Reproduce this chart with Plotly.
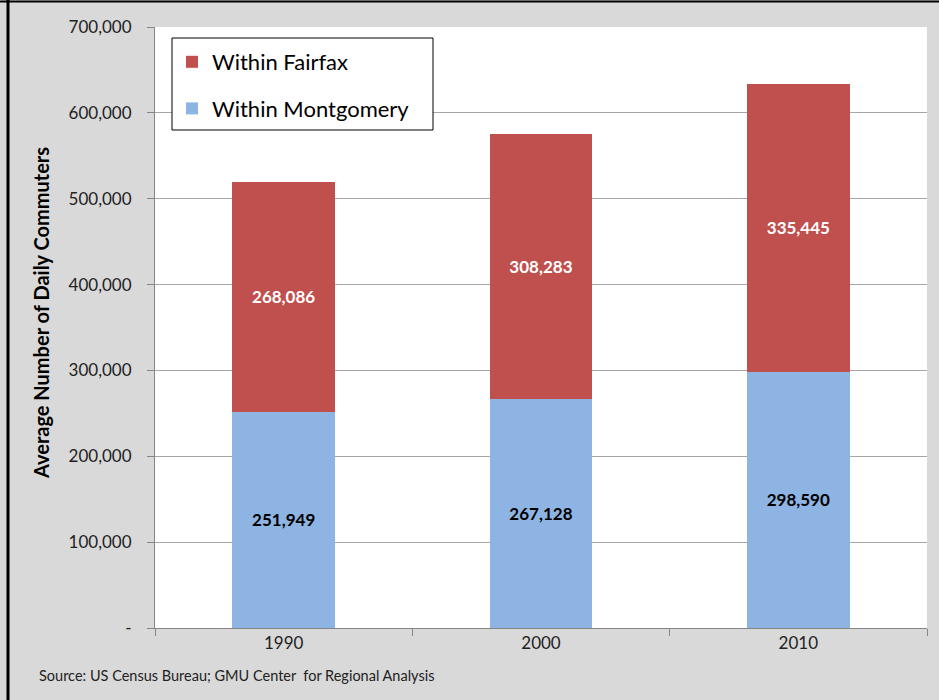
import plotly.graph_objects as go

years = ["1990", "2000", "2010"]
montgomery = [251949, 267128, 298590]
fairfax = [268086, 308283, 335445]
y_ticks = [0, 100000, 200000, 300000, 400000, 500000, 600000, 700000]
y_tick_text = ["-"] + [f"{v:,}" for v in y_ticks[1:]]

FONT = "Lato, 'Open Sans', sans-serif"
RED = "#C0504D"
BLUE = "#8EB4E3"

fig = go.Figure()
fig.add_trace(go.Bar(
    x=years, y=montgomery, name="Within Montgomery", legendgroup="m",
    legendrank=2,
    marker=dict(color=BLUE, line=dict(width=0)),
    text=[f"{v:,}" for v in montgomery], textposition="inside",
    insidetextanchor="middle",
    textfont=dict(color="black", size=17, family=FONT, weight="bold"),
))
fig.add_trace(go.Bar(
    x=years, y=fairfax, name="Within Fairfax", legendgroup="f",
    legendrank=1,
    marker=dict(color=RED, line=dict(width=0)),
    text=[f"{v:,}" for v in fairfax], textposition="inside",
    insidetextanchor="middle",
    textfont=dict(color="white", size=17, family=FONT, weight="bold"),
))

L, R, T, B = 155, 12, 27, 72
W, H = 939, 700
pw, ph = W - L - R, H - T - B


def px_x(p):
    return (p - L) / pw


def px_y(p):
    return 1 - (p - T) / ph


fig.update_layout(
    width=W, height=H,
    margin=dict(l=L, r=R, t=T, b=B),
    paper_bgcolor="#D9D9D9",
    plot_bgcolor="white",
    barmode="stack",
    bargap=0.6,
    font=dict(family=FONT, color="#222222"),
    showlegend=True,
    legend=dict(
        x=px_x(172), y=px_y(41), xanchor="left", yanchor="top",
        bgcolor="rgba(0,0,0,0)", borderwidth=0,
        font=dict(size=22, family=FONT, color="black"),
        traceorder="grouped", tracegroupgap=15,
        itemclick=False,
    ),
    xaxis=dict(
        showgrid=False, showline=True, linecolor="#868686", linewidth=1,
        ticks="outside", tickson="boundaries", ticklen=7, tickcolor="#868686",
        tickfont=dict(size=17, family=FONT, color="#222222"),
    ),
    yaxis=dict(
        range=[0, 700000], tickvals=y_ticks, ticktext=y_tick_text,
        showgrid=True, gridcolor="#A6A6A6", gridwidth=1,
        showline=True, linecolor="#868686", linewidth=1,
        ticks="outside", ticklen=7, tickcolor="#868686",
        ticklabelstandoff=12,
        tickfont=dict(size=17, family=FONT, color="#222222"),
        zeroline=False,
    ),
    annotations=[
        dict(text="<b>Average Number of Daily Commuters</b>", textangle=-90,
             xref="paper", yref="paper", x=px_x(41), y=px_y(313),
             xanchor="center", yanchor="middle",
             showarrow=False, font=dict(size=20, family=FONT, color="black")),
        dict(text="Source: US Census Bureau; GMU Center  for Regional Analysis",
             xref="paper", yref="paper", x=px_x(37), y=px_y(686),
             xanchor="left", showarrow=False,
             font=dict(size=14.5, family=FONT, color="#222222")),
    ],
    shapes=[
        # legend frame
        dict(type="rect", xref="paper", yref="paper", layer="above",
             x0=px_x(172), x1=px_x(433), y0=px_y(130), y1=px_y(38),
             fillcolor="white", line=dict(color="black", width=1)),
        # outer frame edges
        dict(type="line", xref="paper", yref="paper",
             x0=px_x(8), x1=px_x(8), y0=px_y(0), y1=px_y(H),
             line=dict(color="black", width=3)),
        dict(type="line", xref="paper", yref="paper",
             x0=px_x(0), x1=px_x(W), y0=px_y(1.5), y1=px_y(1.5),
             line=dict(color="black", width=2)),
    ],
)

fig.write_html("out.html")
